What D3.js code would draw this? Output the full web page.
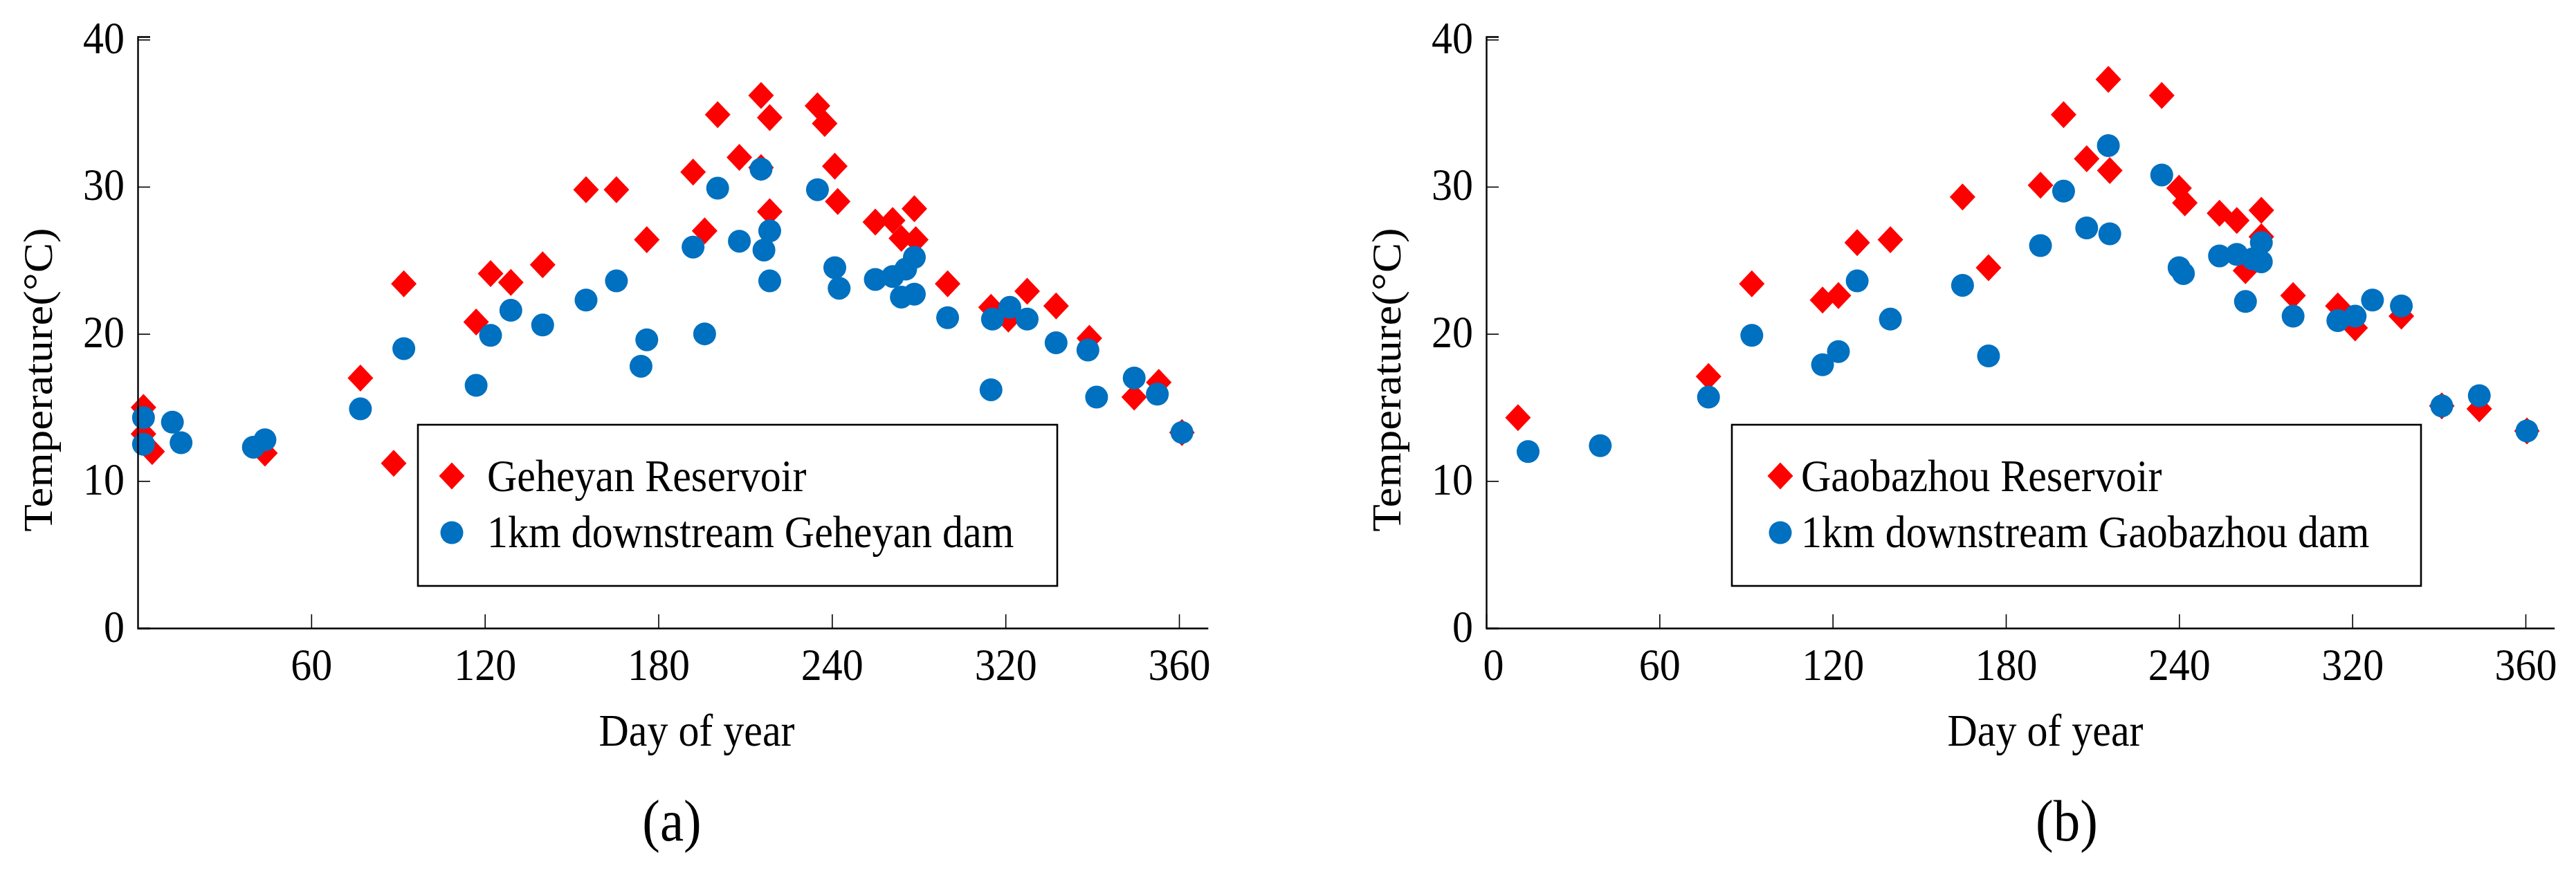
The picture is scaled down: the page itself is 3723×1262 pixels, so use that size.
<!DOCTYPE html>
<html>
<head>
<meta charset="utf-8">
<script src="https://cdn.jsdelivr.net/npm/d3@7"></script>
<style>
  html, body { margin: 0; padding: 0; background: #fff; }
  svg { display: block; }
  text { font-family: "Liberation Serif", "Times New Roman", Times, serif; fill: #000; }
</style>
</head>
<body>
<svg id="chart" width="3723" height="1262"></svg>
<script>
// ---------------- DATA ----------------
const yTickValues = [0, 10, 20, 30, 40];
const yTickLabels = ["0", "10", "20", "30", "40"];

const xTickValuesA = [60, 120, 180, 240, 300, 360];
const xTickLabelsA = ["60", "120", "180", "240", "320", "360"];
const xTickValuesB = [0, 60, 120, 180, 240, 300, 360];
const xTickLabelsB = ["0", "60", "120", "180", "240", "320", "360"];

const seriesNamesA = ["Geheyan Reservoir", "1km downstream Geheyan dam"];
const seriesNamesB = ["Gaobazhou Reservoir", "1km downstream Gaobazhou dam"];

// [day of year, temperature °C]
const geheyanReservoir = [
  [2,15.0],[2,13.2],[5,12.0],[44,11.9],[77,17.0],[88.5,11.2],[92,23.4],[117,20.8],
  [122,24.1],[129,23.5],[140,24.7],[155,29.8],[165.5,29.8],[176,26.4],[192,31.0],
  [196,27.0],[200.5,34.9],[208,32.0],[215.5,36.2],[218.5,34.7],[215.5,31.3],
  [218.5,28.3],[235,35.5],[237.5,34.3],[241,31.4],[242,29.0],[255,27.6],[261,27.7],
  [264,26.5],[268.5,28.5],[269,26.4],[280,23.4],[295,21.8],[301,21.0],[307.5,22.9],
  [317.5,21.9],[329,19.7],[344.5,15.7],[353,16.7],[361,13.3]
];
const geheyanDownstream = [
  [2,14.3],[2,12.5],[12,14.0],[15,12.6],[40,12.3],[44,12.8],[77,14.9],[92,19.0],
  [117,16.5],[122,19.9],[129,21.6],[140,20.6],[155,22.3],[165.5,23.6],[174,17.8],
  [176,19.6],[192,25.9],[196,20.0],[200.5,29.9],[208,26.3],[215.5,31.2],[216.5,25.7],
  [218.5,27.0],[218.5,23.6],[235,29.8],[241,24.5],[242.5,23.1],[255,23.7],[261,23.9],
  [264,22.5],[265.5,24.4],[268.5,25.2],[268.5,22.7],[280,21.1],[295,16.2],[295.5,21.0],
  [301.5,21.8],[307.5,21.0],[317.5,19.4],[328.5,18.9],[331.5,15.7],[344.5,17.0],
  [352.5,15.9],[361,13.3]
];
const gaobazhouReservoir = [
  [11,14.3],[77,17.1],[92,23.4],[116.5,22.3],[122,22.6],[128.5,26.2],[140,26.4],
  [165,29.3],[174,24.5],[192,30.1],[200,34.9],[208,31.9],[215.5,37.3],[216,31.1],
  [234,36.2],[240,29.9],[242,28.9],[254,28.2],[260,27.7],[263,24.3],[268.5,28.4],
  [268.5,26.6],[279.5,22.6],[295,21.9],[301,20.4],[317,21.2],[331,15.1],[344,14.9],
  [360.5,13.4]
];
const gaobazhouDownstream = [
  [14.5,12.0],[39.5,12.4],[77,15.7],[92,19.9],[116.5,17.9],[122,18.8],[128.5,23.6],
  [140,21.0],[165,23.3],[174,18.5],[192,26.0],[200,29.7],[208,27.2],[215.5,32.8],
  [216,26.8],[234,30.8],[240,24.5],[241.5,24.1],[254,25.3],[260,25.4],[263,22.2],
  [265.5,25.1],[268.5,26.2],[268.5,24.9],[279.5,21.2],[295,20.9],[301,21.2],[307,22.3],
  [317,21.9],[331,15.1],[344,15.8],[360.5,13.4]
];

// ---------------- STYLE / LAYOUT ----------------
const RED = "#FF0000";
const BLUE = "#0070C0";
const FONT_TICK = 60, FONT_TITLE = 60, FONT_LEGEND = 60, FONT_PANEL = 77;
const STRETCH = 1.1;           // slight vertical stretch of the original figure
const xDomain = [0, 370];
const yDomain = [0, 40.2];
const plotTop = 53, plotBottom = 908;
const DIA_W = 18.5, DIA_H = 19.5, CIRC_R = 16.5;

const svg = d3.select("#chart");

function diamondPath(cx, cy) {
  return `M${cx},${cy - DIA_H}L${cx + DIA_W},${cy}L${cx},${cy + DIA_H}L${cx - DIA_W},${cy}Z`;
}

function drawPanel(cfg) {
  const g = svg.append("g");
  const x = d3.scaleLinear().domain(xDomain).range([cfg.x0, cfg.x0 + (xDomain[1] - xDomain[0]) * cfg.pxPerDay]);
  const y = d3.scaleLinear().domain(yDomain).range([plotBottom, plotTop]);

  // points: red diamonds first, blue circles on top
  g.append("g").selectAll("path").data(cfg.red).join("path")
    .attr("d", d => diamondPath(x(d[0]), y(d[1])))
    .attr("fill", RED);
  g.append("g").selectAll("circle").data(cfg.blue).join("circle")
    .attr("cx", d => x(d[0])).attr("cy", d => y(d[1])).attr("r", CIRC_R)
    .attr("fill", BLUE);

  // x axis
  const gx = g.append("g").attr("transform", `translate(0,${y(0)})`)
    .call(d3.axisBottom(x).tickValues(cfg.xTicks)
      .tickFormat((d, i) => cfg.xLabels[i]).tickSizeInner(-20).tickSizeOuter(0));
  gx.attr("font-family", null).attr("font-size", null);
  gx.select(".domain").attr("stroke", "#000").attr("stroke-width", 2.6);
  gx.selectAll(".tick line").attr("stroke", "#000").attr("stroke-width", 1.6);
  gx.selectAll(".tick text")
    .attr("y", null).attr("dy", null)
    .attr("transform", d => `translate(${d === 0 ? 10 : 0},75) scale(1,${STRETCH})`)
    .style("font-size", FONT_TICK + "px")
    .attr("fill", "#000");

  // y axis
  const gy = g.append("g").attr("transform", `translate(${x(0)},0)`)
    .call(d3.axisLeft(y).tickValues(yTickValues)
      .tickFormat((d, i) => yTickLabels[i]).tickSizeInner(-18).tickSizeOuter(-18));
  gy.attr("font-family", null).attr("font-size", null);
  gy.select(".domain").attr("stroke", "#000").attr("stroke-width", 2.4);
  gy.selectAll(".tick line").attr("stroke", "#000").attr("stroke-width", 1.6);
  gy.selectAll(".tick text")
    .attr("x", null).attr("dy", null)
    .attr("text-anchor", "end")
    .attr("transform", `translate(-19,19) scale(1,${STRETCH})`)
    .style("font-size", FONT_TICK + "px")
    .attr("fill", "#000");

  // axis titles
  g.append("text")
    .attr("transform", `translate(${cfg.xTitleX},1078) scale(1,${STRETCH})`)
    .attr("text-anchor", "middle")
    .style("font-size", FONT_TITLE + "px")
    .text("Day of year");
  g.append("text")
    .attr("transform", `translate(${x(0) - 124},549) scale(1,${STRETCH}) rotate(-90)`)
    .attr("text-anchor", "middle")
    .style("font-size", (FONT_TITLE - 1) + "px")
    .text("Temperature(°C)");

  // panel label
  g.append("text")
    .attr("transform", `translate(${cfg.panelX},1215) scale(1,${STRETCH})`)
    .attr("text-anchor", "middle")
    .style("font-size", FONT_PANEL + "px")
    .text(cfg.panel);

  // legend
  const L = cfg.legend;
  const lg = g.append("g");
  lg.append("rect")
    .attr("x", L.x).attr("y", 614).attr("width", L.w).attr("height", 233)
    .attr("fill", "#fff").attr("stroke", "#000").attr("stroke-width", 2.6);
  lg.append("path").attr("d", diamondPath(L.mx, 688)).attr("fill", RED);
  lg.append("circle").attr("cx", L.mx).attr("cy", 770).attr("r", CIRC_R).attr("fill", BLUE);
  lg.append("text")
    .attr("transform", `translate(${L.tx},710) scale(1,${STRETCH})`)
    .style("font-size", FONT_LEGEND + "px")
    .text(cfg.names[0]);
  lg.append("text")
    .attr("transform", `translate(${L.tx},791) scale(1,${STRETCH})`)
    .style("font-size", FONT_LEGEND + "px")
    .text(cfg.names[1]);
}

drawPanel({
  x0: 199, pxPerDay: 4.1806,
  xTicks: xTickValuesA, xLabels: xTickLabelsA,
  red: geheyanReservoir, blue: geheyanDownstream,
  names: seriesNamesA,
  xTitleX: 1007, panelX: 971, panel: "(a)",
  legend: { x: 604, w: 924, mx: 653, tx: 704 }
});

drawPanel({
  x0: 2148, pxPerDay: 4.1722,
  xTicks: xTickValuesB, xLabels: xTickLabelsB,
  red: gaobazhouReservoir, blue: gaobazhouDownstream,
  names: seriesNamesB,
  xTitleX: 2956, panelX: 2987, panel: "(b)",
  legend: { x: 2503, w: 996, mx: 2573, tx: 2603 }
});
</script>
</body>
</html>
